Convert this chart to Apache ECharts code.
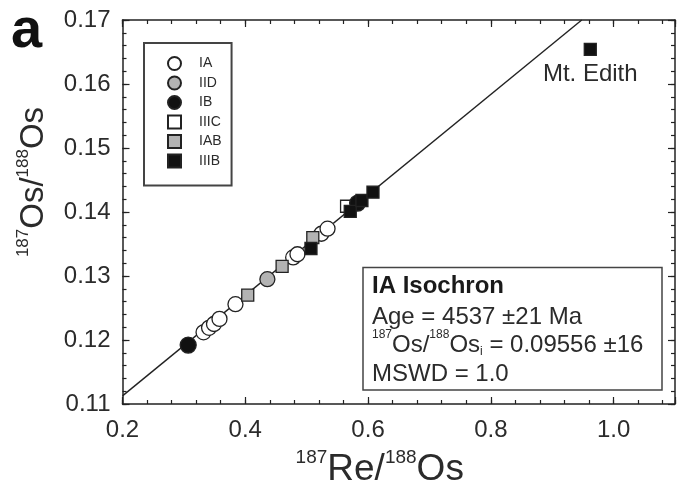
<!DOCTYPE html>
<html>
<head>
<meta charset="utf-8">
<script src="https://cdn.jsdelivr.net/npm/echarts@6/dist/echarts.min.js"></script>
<style>
  html, body { margin: 0; padding: 0; background: #fff; }
  #chart { width: 678px; height: 493px; }
</style>
</head>
<body>
<div id="chart"></div>
<script>
// Axis ranges and tick labels
const xRange = [0.2, 1.1];
const yRange = [0.11, 0.17];
const xTickLabels = [0.2, 0.4, 0.6, 0.8, 1.0];
const yTickLabels = [0.11, 0.12, 0.13, 0.14, 0.15, 0.16, 0.17];

// Iron meteorite groups: 187Re/188Os (x) and 187Os/188Os (y)
const iaX   = [0.332, 0.341, 0.349, 0.358, 0.384, 0.478, 0.485, 0.524, 0.534];
const iaY   = [0.1212, 0.1219, 0.1225, 0.1233, 0.1256, 0.1329, 0.1334, 0.1366, 0.1374];
const iidX  = [0.436];
const iidY  = [0.1295];
const ibX   = [0.307, 0.583];
const ibY   = [0.1192, 0.1414];
const iiicX = [0.565];
const iiicY = [0.1409];
const iabX  = [0.404, 0.460, 0.510];
const iabY  = [0.1270, 0.1315, 0.1360];
const iiibX = [0.507, 0.571, 0.590, 0.608, 0.962];
const iiibY = [0.1343, 0.1401, 0.1418, 0.1431, 0.1654];
const iiibNames = ['', '', '', '', 'Mt. Edith'];

// IA isochron parameters
const isoAgeMa = 4537;
const isoInitial = 0.09556;
const lambdaRe = 1.666e-11;
const isoSlope = Math.expm1(lambdaRe * isoAgeMa * 1e6);

const pairs = (xs, ys, names) => xs.map((x, i) => names ? { value: [x, ys[i]], name: names[i] } : [x, ys[i]]);

// isochron clipped to the plotting box
const isoStart = [xRange[0], isoInitial + isoSlope * xRange[0]];
const isoEnd = [(yRange[1] - isoInitial) / isoSlope, yRange[1]];

const ink = '#222';
const textColor = '#2b2b2b';
const font = '"Liberation Sans", Arial, Helvetica, sans-serif';

function xAxisDef(position, major, showLabels) {
  return {
    type: 'value', position, min: xRange[0], max: xRange[1],
    interval: major ? 0.2 : 0.04,
    axisLine: { show: major, lineStyle: { color: ink, width: 1.5 } },
    axisTick: { show: true, inside: true, length: major ? 7 : 4, lineStyle: { color: ink, width: 1.2 } },
    axisLabel: {
      show: showLabels, margin: 14, fontSize: 24, color: textColor, fontFamily: font,
      formatter: v => xTickLabels.some(t => Math.abs(t - v) < 1e-6) ? v.toFixed(1) : ''
    },
    splitLine: { show: false }
  };
}

function yAxisDef(position, major, showLabels) {
  return {
    type: 'value', position, min: yRange[0], max: yRange[1],
    interval: major ? 0.01 : 0.002,
    axisLine: { show: major, lineStyle: { color: ink, width: 1.5 } },
    axisTick: { show: true, inside: true, length: major ? 7 : 4, lineStyle: { color: ink, width: 1.2 } },
    axisLabel: {
      show: showLabels, margin: 12, fontSize: 24, color: textColor, fontFamily: font,
      formatter: v => yTickLabels.some(t => Math.abs(t - v) < 1e-6) ? v.toFixed(2) : ''
    },
    splitLine: { show: false }
  };
}

const xMain = xAxisDef('bottom', true, true);
xMain.name = '{sup|187}{big|Re/}{sup|188}{big|Os}';
xMain.nameLocation = 'middle';
xMain.nameGap = 44;
xMain.nameTextStyle = {
  color: textColor, fontFamily: font, padding: [0, 38, 0, 0],
  rich: {
    big: { fontSize: 37, fontFamily: font, color: textColor, lineHeight: 40, verticalAlign: 'bottom' },
    sup: { fontSize: 19, fontFamily: font, color: textColor, lineHeight: 40, verticalAlign: 'top' }
  }
};

const yMain = yAxisDef('left', true, true);
yMain.name = '{sup|187}{big|Os/}{sup|188}{big|Os}';
yMain.nameLocation = 'middle';
yMain.nameGap = 72;
yMain.nameRotate = 90;
yMain.nameTextStyle = {
  color: textColor, fontFamily: font, padding: [0, 0, 0, 60],
  rich: {
    big: { fontSize: 33, fontFamily: font, color: textColor, lineHeight: 36, verticalAlign: 'bottom' },
    sup: { fontSize: 17, fontFamily: font, color: textColor, lineHeight: 36, verticalAlign: 'top' }
  }
};

function scatter(name, symbol, size, fill, data, z) {
  return {
    name, type: 'scatter', symbol, symbolSize: size, data, z,
    xAxisIndex: 0, yAxisIndex: 0,
    itemStyle: { color: fill, borderColor: ink, borderWidth: 1.3, opacity: 1 },
    emphasis: { disabled: true }
  };
}

const circle = 15, square = 12;
const iiibSeries = scatter('IIIB', 'rect', square, '#111', pairs(iiibX, iiibY, iiibNames), 8);
iiibSeries.label = {
  show: true, position: 'bottom', distance: 6,
  formatter: p => p.name, fontSize: 24, color: textColor, fontFamily: font
};

const option = {
  animation: false,
  backgroundColor: '#fff',
  grid: { left: 122.5, right: 2, top: 20, bottom: 85, containLabel: false },
  xAxis: [xMain, xAxisDef('bottom', false, false), xAxisDef('top', true, false), xAxisDef('top', false, false)],
  yAxis: [yMain, yAxisDef('left', false, false), yAxisDef('right', true, false), yAxisDef('right', false, false)],
  legend: {
    data: ['IA', 'IID', 'IB', 'IIIC', 'IAB', 'IIIB'],
    orient: 'vertical', left: 144, top: 43,
    padding: [13, 10, 17, 23],
    itemGap: 4.5, itemWidth: 13, itemHeight: 13,
    borderColor: '#444', borderWidth: 2,
    textStyle: { fontSize: 14, color: textColor, fontFamily: font, padding: [0, 0, 0, 13] },
    selectedMode: false
  },
  graphic: [
    {
      type: 'text', left: 11, top: 4,
      style: { text: 'a', font: 'bold 56px ' + font, fill: '#111' }
    },
    {
      type: 'rect', shape: { x: 363, y: 267.5, width: 299, height: 122.5 },
      style: { fill: '#fff', stroke: '#444', lineWidth: 1.5 }, z: 10
    },
    {
      type: 'text', x: 372, y: 272, z: 11,
      style: {
        text: '{b|IA Isochron}\n{t|Age = ' + isoAgeMa + ' ±21 Ma}\n{s|187}{t|Os/}{s|188}{t|Os}{i|i}{t| = ' + isoInitial.toFixed(5) + ' ±16}\n{t|MSWD = 1.0}',
        fill: textColor, font: '24px ' + font,
        rich: {
          b: { font: 'bold 24px ' + font, fill: '#1a1a1a', lineHeight: 28.5 },
          t: { font: '24px ' + font, fill: textColor, lineHeight: 28.5, verticalAlign: 'bottom' },
          s: { font: '12px ' + font, fill: textColor, lineHeight: 28.5, verticalAlign: 'top' },
          i: { font: '12px ' + font, fill: textColor, lineHeight: 24, verticalAlign: 'bottom' }
        }
      }
    }
  ],
  series: [
    {
      name: 'isochron', type: 'line', data: [isoStart, isoEnd], showSymbol: false, z: 1,
      xAxisIndex: 0, yAxisIndex: 0,
      lineStyle: { color: ink, width: 1.4 }, silent: true
    },
    scatter('IA', 'circle', circle, '#fff', pairs(iaX, iaY), 3),
    scatter('IID', 'circle', circle, '#b3b3b3', pairs(iidX, iidY), 3),
    scatter('IAB', 'rect', square, '#b3b3b3', pairs(iabX, iabY), 4),
    scatter('IIIC', 'rect', square, '#fff', pairs(iiicX, iiicY), 4),
    scatter('IB', 'circle', circle + 1, '#111', pairs(ibX, ibY), 5),
    iiibSeries
  ]
};

const chart = echarts.init(document.getElementById('chart'), null, { renderer: 'canvas' });
chart.setOption(option);
</script>
</body>
</html>
